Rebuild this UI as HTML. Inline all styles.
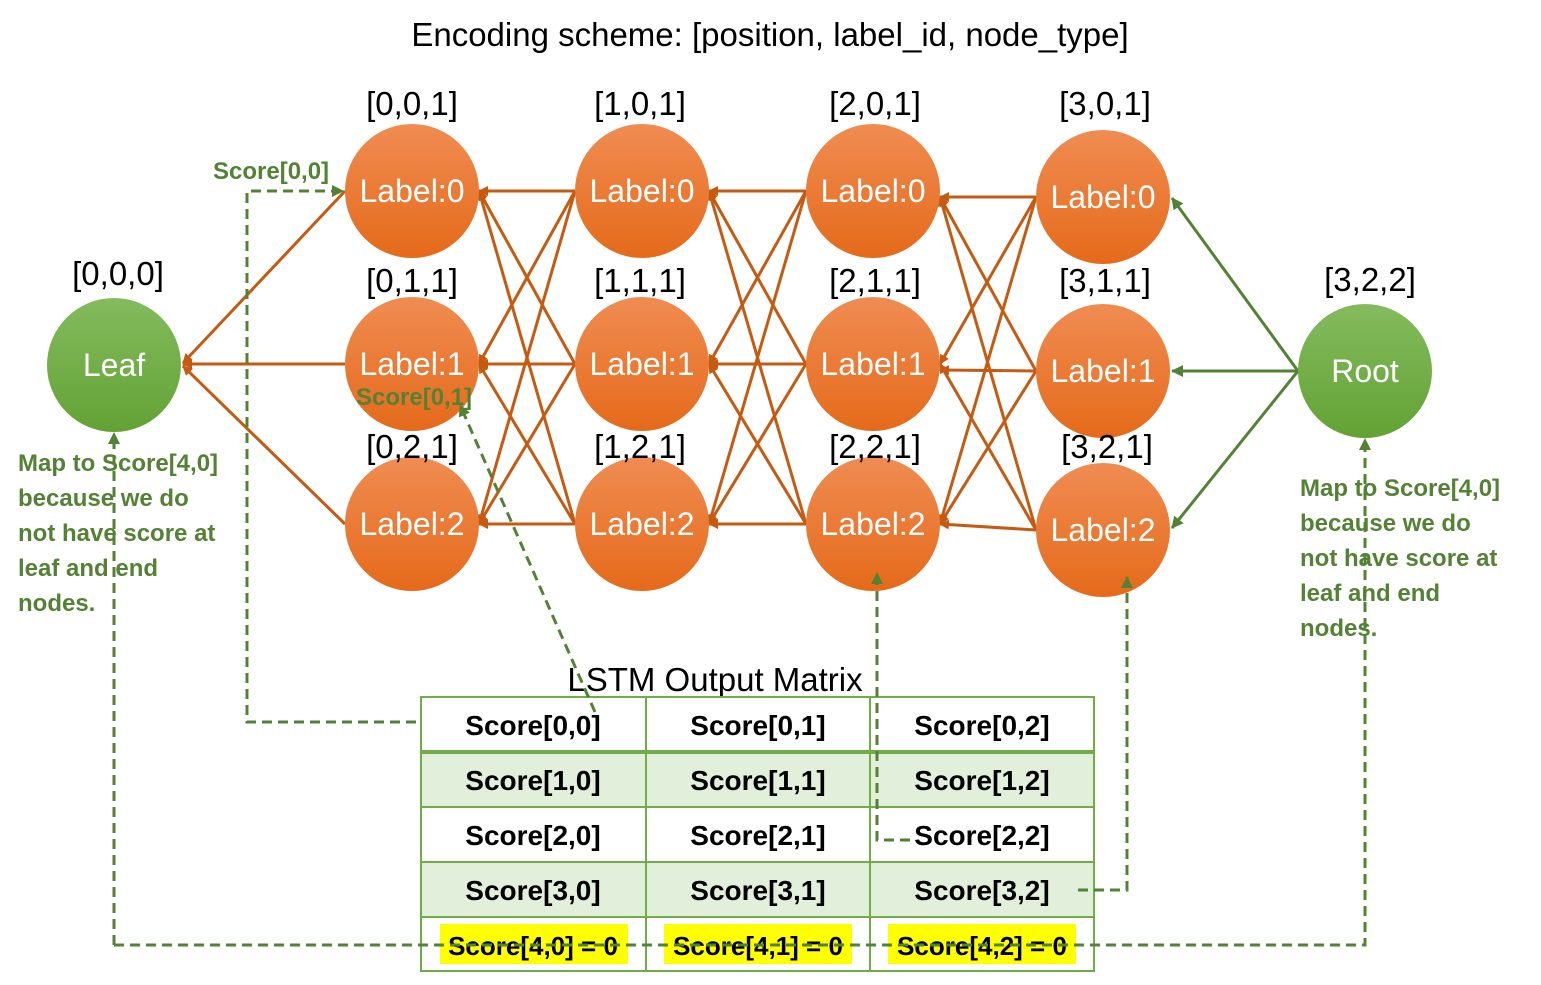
<!DOCTYPE html>
<html><head><meta charset="utf-8"><style>
html,body{margin:0;padding:0;background:#fff;}
svg{display:block;font-family:"Liberation Sans",sans-serif;}
</style></head><body>
<svg width="1541" height="985" viewBox="0 0 1541 985">
<defs>
<marker id="ao" markerWidth="10" markerHeight="10" refX="9" refY="5" orient="auto" markerUnits="userSpaceOnUse"><path d="M0,0 L10,5 L0,10 z" fill="#c55a11"/></marker>
<marker id="ag" markerWidth="12" markerHeight="12" refX="11" refY="6" orient="auto" markerUnits="userSpaceOnUse"><path d="M0,0 L12,6 L0,12 z" fill="#548235"/></marker>
<linearGradient id="go" x1="0" y1="0" x2="0" y2="1"><stop offset="0" stop-color="#f08c52"/><stop offset="1" stop-color="#e56a1a"/></linearGradient>
<linearGradient id="gg" x1="0" y1="0" x2="0" y2="1"><stop offset="0" stop-color="#84bb5e"/><stop offset="1" stop-color="#63a234"/></linearGradient>
</defs>
<text x="770" y="46" font-size="33" text-anchor="middle">Encoding scheme: [position, label_id, node_type]</text>

<g stroke="#c55a11" stroke-width="3" marker-end="url(#ao)">
<line x1="345" y1="191" x2="183" y2="363"/><line x1="345" y1="364" x2="183" y2="364"/><line x1="345" y1="524" x2="183" y2="366"/>
<line x1="575" y1="191" x2="479" y2="191"/><line x1="575" y1="191" x2="479" y2="364"/><line x1="575" y1="191" x2="479" y2="524"/>
<line x1="575" y1="364" x2="479" y2="191"/><line x1="575" y1="364" x2="479" y2="364"/><line x1="575" y1="364" x2="479" y2="524"/>
<line x1="575" y1="524" x2="479" y2="191"/><line x1="575" y1="524" x2="479" y2="364"/><line x1="575" y1="524" x2="479" y2="524"/>
<line x1="806" y1="191" x2="709" y2="191"/><line x1="806" y1="191" x2="709" y2="364"/><line x1="806" y1="191" x2="709" y2="524"/>
<line x1="806" y1="364" x2="709" y2="191"/><line x1="806" y1="364" x2="709" y2="364"/><line x1="806" y1="364" x2="709" y2="524"/>
<line x1="806" y1="524" x2="709" y2="191"/><line x1="806" y1="524" x2="709" y2="364"/><line x1="806" y1="524" x2="709" y2="524"/>
<line x1="1036" y1="197" x2="940" y2="197"/><line x1="1036" y1="197" x2="940" y2="364"/><line x1="1036" y1="197" x2="940" y2="524"/>
<line x1="1036" y1="371" x2="940" y2="197"/><line x1="1036" y1="371" x2="940" y2="370"/><line x1="1036" y1="371" x2="940" y2="524"/>
<line x1="1036" y1="530" x2="940" y2="197"/><line x1="1036" y1="530" x2="940" y2="364"/><line x1="1036" y1="530" x2="940" y2="524"/>
</g>
<g stroke="#548235" stroke-width="3" marker-end="url(#ag)">
<line x1="1298" y1="371" x2="1172" y2="198"/><line x1="1298" y1="371" x2="1172" y2="371"/><line x1="1298" y1="371" x2="1172" y2="528"/>
</g>

<g font-size="32" fill="#fff" text-anchor="middle">
<circle cx="114" cy="365" r="67" fill="url(#gg)"/><text x="114" y="376">Leaf</text>
<circle cx="1365" cy="371" r="67" fill="url(#gg)"/><text x="1365" y="382">Root</text>
<circle cx="412" cy="191" r="67" fill="url(#go)"/><text x="412" y="202">Label:0</text>
<circle cx="412" cy="364" r="67" fill="url(#go)"/><text x="412" y="375">Label:1</text>
<circle cx="412" cy="524" r="67" fill="url(#go)"/><text x="412" y="535">Label:2</text>
<circle cx="642" cy="191" r="67" fill="url(#go)"/><text x="642" y="202">Label:0</text>
<circle cx="642" cy="364" r="67" fill="url(#go)"/><text x="642" y="375">Label:1</text>
<circle cx="642" cy="524" r="67" fill="url(#go)"/><text x="642" y="535">Label:2</text>
<circle cx="873" cy="191" r="67" fill="url(#go)"/><text x="873" y="202">Label:0</text>
<circle cx="873" cy="364" r="67" fill="url(#go)"/><text x="873" y="375">Label:1</text>
<circle cx="873" cy="524" r="67" fill="url(#go)"/><text x="873" y="535">Label:2</text>
<circle cx="1103" cy="197" r="67" fill="url(#go)"/><text x="1103" y="208">Label:0</text>
<circle cx="1103" cy="371" r="67" fill="url(#go)"/><text x="1103" y="382">Label:1</text>
<circle cx="1103" cy="530" r="67" fill="url(#go)"/><text x="1103" y="541">Label:2</text>
</g>

<g font-size="33" fill="#000" text-anchor="middle">
<text x="118" y="285">[0,0,0]</text><text x="1370" y="291">[3,2,2]</text>
<text x="412" y="115">[0,0,1]</text><text x="412" y="292">[0,1,1]</text><text x="412" y="458">[0,2,1]</text>
<text x="640" y="115">[1,0,1]</text><text x="640" y="292">[1,1,1]</text><text x="640" y="458">[1,2,1]</text>
<text x="875" y="115">[2,0,1]</text><text x="875" y="292">[2,1,1]</text><text x="875" y="458">[2,2,1]</text>
<text x="1105" y="115">[3,0,1]</text><text x="1105" y="292">[3,1,1]</text><text x="1107" y="458">[3,2,1]</text>
<text x="715" y="691">LSTM Output Matrix</text>
</g>

<!-- table -->
<g>
<rect x="421" y="752" width="673" height="55" fill="#e2efda"/>
<rect x="421" y="862" width="673" height="55" fill="#e2efda"/>
<rect x="440" y="924" width="188" height="40" fill="#ffff00"/>
<rect x="664" y="924" width="188" height="40" fill="#ffff00"/>
<rect x="888" y="924" width="188" height="40" fill="#ffff00"/>
<g stroke="#70ad47" stroke-width="2" fill="none">
<rect x="421" y="697" width="673" height="274"/>
<line x1="421" y1="752" x2="1094" y2="752" stroke-width="4"/>
<line x1="421" y1="807" x2="1094" y2="807"/>
<line x1="421" y1="862" x2="1094" y2="862"/>
<line x1="421" y1="917" x2="1094" y2="917"/>
<line x1="646" y1="697" x2="646" y2="971"/>
<line x1="870" y1="697" x2="870" y2="971"/>
</g>
<g font-size="28" font-weight="bold" text-anchor="middle" fill="#000">
<text x="533" y="735">Score[0,0]</text><text x="758" y="735">Score[0,1]</text><text x="982" y="735">Score[0,2]</text>
<text x="533" y="790">Score[1,0]</text><text x="758" y="790">Score[1,1]</text><text x="982" y="790">Score[1,2]</text>
<text x="533" y="845">Score[2,0]</text><text x="758" y="845">Score[2,1]</text><text x="982" y="845">Score[2,2]</text>
<text x="533" y="900">Score[3,0]</text><text x="758" y="900">Score[3,1]</text><text x="982" y="900">Score[3,2]</text>
<text x="533" y="955" font-size="26">Score[4,0] = 0</text><text x="758" y="955" font-size="26">Score[4,1] = 0</text><text x="982" y="955" font-size="26">Score[4,2] = 0</text>
</g>
</g>

<!-- dashed green -->
<g stroke="#548235" stroke-width="3" stroke-dasharray="10,6" fill="none">
<path d="M416,722 H247 V191 H343" marker-end="url(#ag)"/>
<path d="M595,712 L460,405" marker-end="url(#ag)"/>
<path d="M910,840 H877 V573" marker-end="url(#ag)"/>
<path d="M1078,890 H1127 V577" marker-end="url(#ag)"/>
<path d="M114,945 V433" marker-end="url(#ag)"/>
<path d="M114,945 H1365 V439" marker-end="url(#ag)"/>
</g>

<g font-size="24" font-weight="bold" fill="#548235">
<text x="213" y="179">Score[0,0]</text>
<text x="356" y="405">Score[0,1]</text>
<text x="18" y="471">Map to Score[4,0]</text>
<text x="18" y="506">because we do</text>
<text x="18" y="541">not have score at</text>
<text x="18" y="576">leaf and end</text>
<text x="18" y="611">nodes.</text>
<text x="1300" y="496">Map to Score[4,0]</text>
<text x="1300" y="531">because we do</text>
<text x="1300" y="566">not have score at</text>
<text x="1300" y="601">leaf and end</text>
<text x="1300" y="636">nodes.</text>
</g>
</svg>
</body></html>
